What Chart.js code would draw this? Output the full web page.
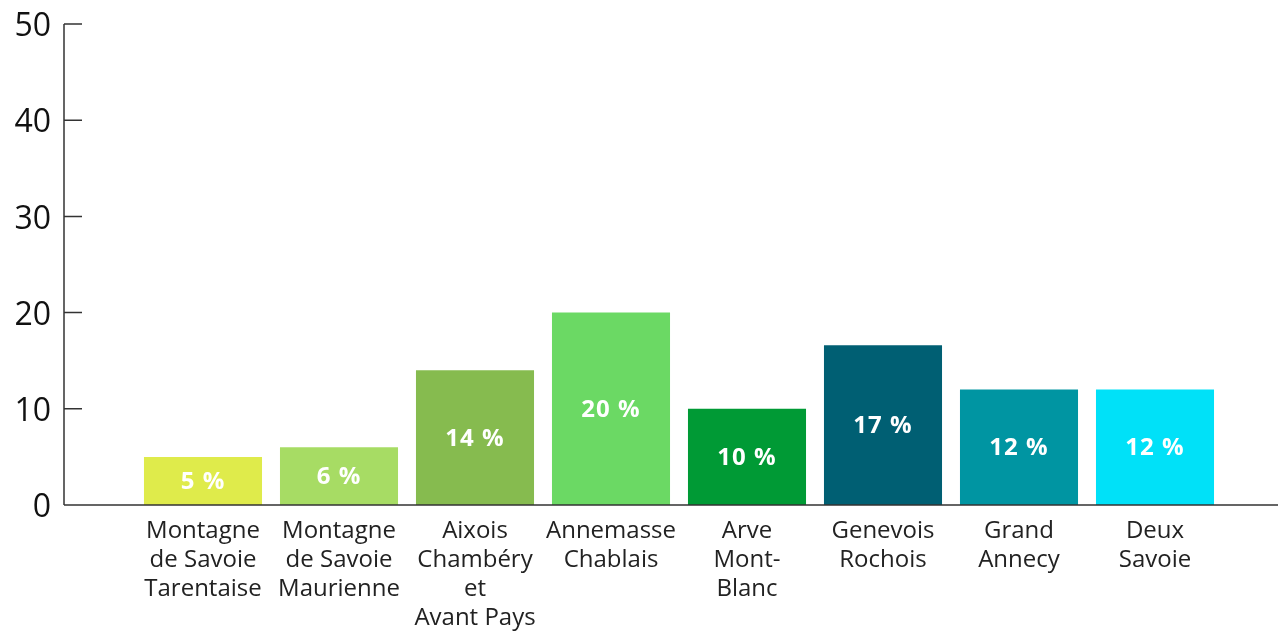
<!DOCTYPE html>
<html>
<head>
<meta charset="utf-8">
<script src="https://cdn.jsdelivr.net/npm/chart.js@4/dist/chart.umd.min.js"></script>
<style>
html,body{margin:0;padding:0;background:#fff;}
#wrap{width:1278px;height:632px;position:relative;}
</style>
</head>
<body>
<div id="wrap"><canvas id="c" width="1278" height="632"></canvas></div>
<script>
const categories = [
  ["Montagne","de Savoie","Tarentaise"],
  ["Montagne","de Savoie","Maurienne"],
  ["Aixois","Chambéry","et","Avant Pays"],
  ["Annemasse","Chablais"],
  ["Arve","Mont-","Blanc"],
  ["Genevois","Rochois"],
  ["Grand","Annecy"],
  ["Deux","Savoie"]
];
const values = [5, 6, 14, 20, 10, 16.6, 12, 12];
const valueLabels = ["5 %", "6 %", "14 %", "20 %", "10 %", "17 %", "12 %", "12 %"];
const barColors = ["#dfeb4b", "#a7dc64", "#86bb4f", "#6bd964", "#009a35", "#005f73", "#0095a2", "#00e1f8"];
const yTicks = [0, 10, 20, 30, 40, 50];

const axisPlugin = {
  id: 'axisLines',
  afterDraw(chart) {
    const ctx = chart.ctx;
    const y = chart.scales.y;
    const axX = 64;
    const y0 = y.getPixelForValue(0);
    const yTop = y.getPixelForValue(yTicks[yTicks.length - 1]);
    ctx.save();
    ctx.strokeStyle = '#333';
    ctx.lineWidth = 1.5;
    ctx.beginPath();
    ctx.moveTo(axX, yTop);
    ctx.lineTo(axX, y0);
    yTicks.forEach(v => {
      const p = y.getPixelForValue(v);
      ctx.moveTo(axX, p);
      ctx.lineTo(axX + 18, p);
    });
    ctx.moveTo(axX, y0);
    ctx.lineTo(chart.width, y0);
    ctx.stroke();
    ctx.restore();
  }
};

const labelPlugin = {
  id: 'barLabels',
  afterDatasetsDraw(chart) {
    const ctx = chart.ctx;
    const meta = chart.getDatasetMeta(0);
    ctx.save();
    ctx.fillStyle = '#fff';
    ctx.font = '700 24px "Open Sans"';
    ctx.letterSpacing = '1px';
    ctx.textAlign = 'center';
    ctx.textBaseline = 'middle';
    meta.data.forEach((el, i) => {
      const p = el.getProps(['x', 'y', 'base'], true);
      ctx.fillText(valueLabels[i], p.x, (p.y + p.base) / 2 + 1);
    });
    ctx.restore();
  }
};

new Chart(document.getElementById('c'), {
  type: 'bar',
  data: {
    labels: categories,
    datasets: [{
      data: values,
      backgroundColor: barColors,
      borderWidth: 0,
      categoryPercentage: 1,
      barPercentage: 0.868
    }]
  },
  options: {
    responsive: false,
    animation: false,
    layout: { padding: { top: 24, right: 55, bottom: 0, left: 0 } },
    plugins: { legend: { display: false }, tooltip: { enabled: false } },
    scales: {
      x: {
        afterFit(scale) { scale.height = 127; },
        grid: { display: false, drawTicks: false },
        border: { display: false },
        ticks: {
          color: '#222',
          font: { family: '"Open Sans"', size: 24, lineHeight: 1.2 },
          padding: 12,
          maxRotation: 0,
          autoSkip: false
        }
      },
      y: {
        min: 0, max: 50,
        afterFit(scale) { scale.width = 135; scale.paddingTop = 16; scale.paddingBottom = 16; },
        afterBuildTicks(scale) { scale.ticks = yTicks.map(v => ({ value: v })); },
        grid: { display: false, drawTicks: false },
        border: { display: false },
        ticks: {
          color: '#111',
          font: { family: '"Open Sans"', size: 32 },
          padding: 84,
          labelOffset: 3
        }
      }
    }
  },
  plugins: [axisPlugin, labelPlugin]
});
</script>
</body>
</html>
